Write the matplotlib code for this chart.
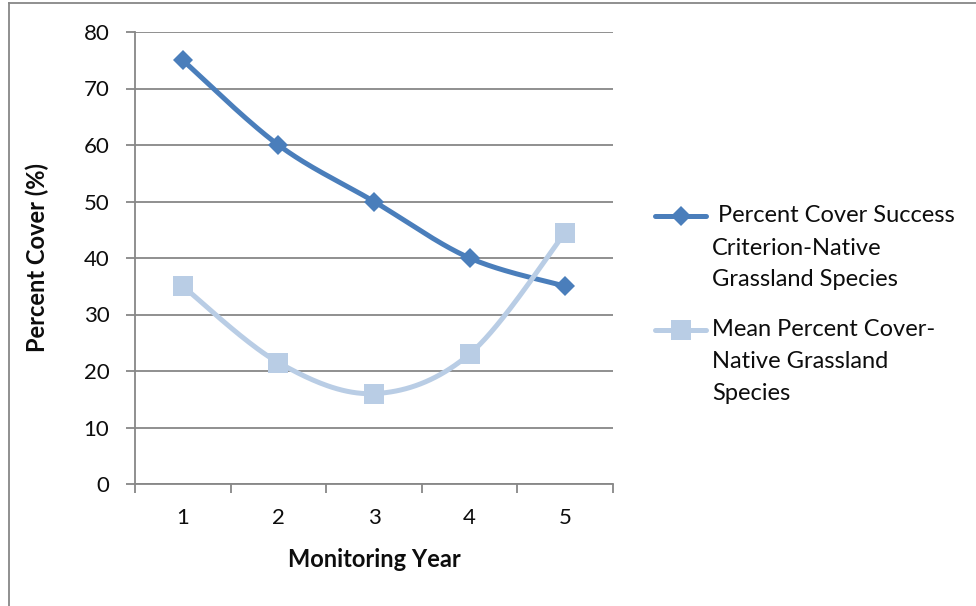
import numpy as np
import matplotlib
matplotlib.use("Agg")
import matplotlib.pyplot as plt
from matplotlib.lines import Line2D

years = [1, 2, 3, 4, 5]
criterion = [75, 60, 50, 40, 35]
mean_cover = [35, 21.5, 16, 23, 44.5]
series_labels = [" Percent Cover Success\nCriterion-Native\nGrassland Species",
                 "Mean Percent Cover-\nNative Grassland\nSpecies"]
y_ticks = [0, 10, 20, 30, 40, 50, 60, 70, 80]
x_label = "Monitoring Year"
y_label = "Percent Cover (%)"

C1 = "#4A7EBB"
C2 = "#B9CDE5"
GRID = "#878787"
FONT = "Lato"
FS = 17
FS_TICK = 16
TXT = "#0d0d0d"

plt.rcParams['font.family'] = [FONT, 'DejaVu Sans']


def smooth(xs, ys, n=40):
    # Excel-like Bezier smoothing (Catmull-Rom, tension 1/6)
    xs = np.asarray(xs, float); ys = np.asarray(ys, float)
    P = np.column_stack([xs, ys])
    out = []
    for i in range(len(P) - 1):
        p0 = P[i - 1] if i > 0 else P[i]
        p1 = P[i]; p2 = P[i + 1]
        p3 = P[i + 2] if i + 2 < len(P) else P[i + 1]
        c1 = p1 + (p2 - p0) / 6.0
        c2 = p2 - (p3 - p1) / 6.0
        t = np.linspace(0, 1, n)[:, None]
        seg = ((1 - t) ** 3) * p1 + 3 * ((1 - t) ** 2) * t * c1 + 3 * (1 - t) * t ** 2 * c2 + t ** 3 * p2
        out.append(seg if i == 0 else seg[1:])
    S = np.vstack(out)
    return S[:, 0], S[:, 1]


fig = plt.figure(figsize=(9.76, 6.06), dpi=100)
W, H = 976, 606
ax = fig.add_axes([135 / W, 1 - 484 / H, (613 - 135) / W, (484 - 32) / H])

ax.set_xlim(0.5, 5.5)
ax.set_ylim(0, 80)

for vals, col, mk, ms in [(criterion, C1, 'D', 10.5), (mean_cover, C2, 's', 14)]:
    sx, sy = smooth(years, vals)
    ax.plot(sx, sy, color=col, lw=3.6, solid_capstyle='round', zorder=3)
    ax.plot(years, vals, linestyle='none', marker=mk, markersize=ms,
            color=col, markeredgewidth=0, zorder=4)

ax.set_yticks(y_ticks)
ax.set_xticks(years)
ax.set_xticks([0.5, 1.5, 2.5, 3.5, 4.5, 5.5], minor=True)
ax.yaxis.grid(True, color=GRID, lw=1.3)
ax.set_axisbelow(True)
for s in ['top', 'right']:
    ax.spines[s].set_visible(False)
for s in ['left', 'bottom']:
    ax.spines[s].set_color(GRID)
    ax.spines[s].set_linewidth(1.3)
ax.tick_params(axis='y', length=6.5, width=1.3, color=GRID, pad=12, labelsize=FS_TICK, labelcolor=TXT)
ax.tick_params(axis='x', which='major', length=0, pad=17, labelsize=FS_TICK, labelcolor=TXT)
ax.tick_params(axis='x', which='minor', length=6.5, width=1.3, color=GRID)
ax.set_xlabel(x_label, fontsize=FS, fontweight='bold', labelpad=15, color=TXT)
ax.set_ylabel(y_label, fontsize=FS, fontweight='bold', labelpad=25, color=TXT)

# legend (manual, handle aligned with first text line)
entries = [(series_labels[0], C1, 'D', 10.5, 216), (series_labels[1], C2, 's', 14, 330)]
for lab, col, mk, ms, yc in entries:
    yf = 1 - yc / H
    fig.add_artist(Line2D([655 / W, 706 / W], [yf, yf], color=col, lw=3.6,
                          solid_capstyle='round', transform=fig.transFigure))
    fig.add_artist(Line2D([681 / W], [yf], marker=mk, markersize=ms, color=col,
                          markeredgewidth=0, linestyle='none', transform=fig.transFigure))
    for k, line in enumerate(lab.split("\n")):
        fig.text(712 / W, 1 - (yc + 32 * k) / H, line, fontsize=FS, va='center',
                 ha='left', color=TXT)

# outer chart border
fig.add_artist(Line2D([8.5 / W, 8.5 / W], [0, 1 - 3 / H], color=GRID, lw=1.3, transform=fig.transFigure))
fig.add_artist(Line2D([8.5 / W, 1], [1 - 3 / H, 1 - 3 / H], color=GRID, lw=1.3, transform=fig.transFigure))

fig.savefig("out.png", dpi=100)
